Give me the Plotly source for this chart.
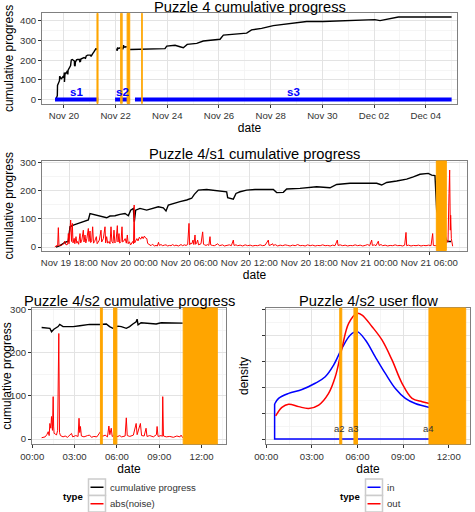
import pandas as pd
import plotly.graph_objects as go

W, H = 475, 512
FONT = "Liberation Sans, Arial, Helvetica, sans-serif"
ORANGE = "#FFA500"

# ---------------- data ----------------
# orange events (shared by all panels)
event_name = ["a1", "a2", "a3", "a4", "a5"]
event_start = ["2012-11-21 06:42", "2012-11-22 04:50", "2012-11-22 05:46",
               "2012-11-22 10:42", "2012-11-23 00:15"]
event_end = ["2012-11-21 07:42", "2012-11-22 04:58", "2012-11-22 06:00",
             "2012-11-22 13:07", "2012-11-23 00:45"]

# sessions (blue bars in the top panel)
session_name = ["s1", "s2", "s3"]
session_start = ["2012-11-19 15:45", "2012-11-21 23:30", "2012-11-22 18:00"]
session_end = ["2012-11-21 07:55", "2012-11-22 13:25", "2012-12-05 00:00"]

# s1: minutes after 2012-11-19 16:00
s1_t0 = "2012-11-19 16:00"
s1_prog_min = [40, 64, 94, 114, 124, 144, 174, 204, 234, 244, 264, 294, 324, 344, 364,
               394, 424, 454, 474, 488, 504, 510, 518, 544, 584, 624, 654, 684, 700, 714,
               744, 784, 824, 854, 870, 894, 944, 984, 1024, 1064, 1070, 1104, 1120, 1144,
               1184, 1234, 1344, 1364, 1404, 1424, 1504, 1604, 1684, 1724, 1804, 1904,
               1964, 1994, 2024, 2084, 2144, 2184, 2224, 2274, 2294, 2314, 2324, 2386, 2410]
s1_prog_val = [0, 5, 17, 21, 72, 78, 84, 90, 96, 119, 116, 113, 108, 104, 110,
               111, 116, 119, 111, 131, 137, 90, 131, 137, 131, 137, 143, 139, 128, 149,
               155, 161, 167, 173, 187, 202, 204, 202, 199, 196, 175, 170, 190, 196,
               202, 204, 204, 193, 194, 206, 208, 214, 210, 222, 226, 226,
               226, 220, 229, 234, 241, 249, 258, 261, 255, 253, 130, 20, 20]
s1_noise = [(34, 0), (40, 5), (50, 4), (54, 69), (58, 5), (65, 8), (75, 6), (85, 12), (92, 21),
            (100, 8), (110, 10), (114, 48), (118, 12), (128, 96), (133, 20), (138, 84), (142, 15),
            (149, 31), (153, 12), (160, 37), (165, 14), (170, 20), (176, 10), (184, 48), (188, 15),
            (195, 25), (204, 60), (208, 18), (214, 43), (219, 15), (225, 30), (234, 66), (238, 20),
            (244, 57), (248, 16), (254, 22), (260, 72), (265, 14), (272, 20), (282, 37), (287, 12),
            (294, 18), (300, 25), (310, 60), (314, 18), (324, 30), (334, 72), (338, 15), (344, 37),
            (350, 14), (358, 20), (364, 12), (370, 72), (375, 20), (382, 14), (388, 60), (393, 15),
            (400, 20), (408, 76), (412, 18), (418, 48), (422, 14), (430, 20), (436, 72), (440, 18),
            (446, 21), (455, 30), (462, 14), (468, 43), (473, 12), (480, 19), (488, 8), (495, 14),
            (500, 20), (505, 12), (509, 149), (512, 15), (518, 25), (525, 30), (532, 22), (540, 35),
            (548, 28), (556, 37), (563, 30), (570, 39), (578, 32), (585, 30), (590, 13), (600, 9),
            (610, 5), (618, 10), (625, 8), (632, 4), (640, 6), (648, 4), (655, 17), (660, 6),
            (670, 9), (680, 5), (690, 7), (700, 8), (710, 4), (720, 6), (730, 5), (740, 9),
            (750, 5), (760, 7), (775, 4), (790, 9), (800, 5), (810, 8), (820, 6), (830, 9),
            (838, 84), (842, 8), (848, 14), (855, 12), (862, 25), (867, 9), (874, 43), (878, 10),
            (884, 15), (890, 25), (895, 8), (900, 9), (910, 12), (920, 54), (925, 10), (932, 8),
            (940, 6), (950, 9), (957, 6), (964, 37), (968, 8), (978, 6), (990, 5), (1000, 8),
            (1010, 12), (1020, 5), (1030, 6), (1040, 8), (1050, 4), (1065, 7), (1080, 8), (1092, 5),
            (1104, 25), (1108, 6), (1120, 8), (1130, 5), (1145, 7), (1160, 4), (1175, 8), (1190, 5),
            (1205, 7), (1220, 4), (1235, 6), (1250, 5), (1265, 8), (1280, 5), (1295, 7), (1314, 25),
            (1318, 6), (1330, 8), (1340, 12), (1345, 5), (1355, 9), (1370, 4), (1385, 7), (1400, 5),
            (1415, 8), (1430, 6), (1445, 4), (1460, 7), (1475, 5), (1490, 9), (1505, 5), (1520, 6),
            (1535, 4), (1550, 8), (1565, 5), (1580, 7), (1595, 4), (1610, 6), (1625, 5), (1640, 8),
            (1655, 5), (1670, 6), (1685, 4), (1700, 7), (1714, 5), (1728, 25), (1732, 6), (1745, 8),
            (1760, 5), (1775, 7), (1790, 4), (1805, 6), (1820, 5), (1835, 8), (1850, 5), (1865, 7),
            (1880, 4), (1895, 6), (1910, 9), (1922, 5), (1934, 25), (1938, 6), (1950, 8), (1960, 5),
            (1974, 21), (1978, 6), (1990, 9), (2000, 5), (2015, 7), (2030, 4), (2045, 6), (2060, 5),
            (2075, 8), (2090, 5), (2105, 6), (2120, 4), (2132, 7), (2140, 52), (2144, 5), (2155, 7),
            (2170, 4), (2185, 6), (2200, 5), (2215, 7), (2230, 4), (2245, 6), (2260, 5), (2275, 7),
            (2290, 5), (2300, 48), (2304, 6), (2315, 5), (2330, 7), (2350, 5), (2370, 6), (2386, 20),
            (2392, 18), (2398, 190), (2402, 273), (2406, 60), (2408, 113), (2412, 30), (2414, 19),
            (2418, 5), (2420, 3)]

# s2: minutes after 2012-11-22 00:00
s2_t0 = "2012-11-22 00:00"
s2_prog_min = [40, 75, 82, 92, 110, 117, 131, 174, 202, 244, 287, 315, 329, 343, 364,
               379, 400, 414, 428, 442, 446, 450, 463, 499, 527, 548, 583, 640]
s2_prog_val = [258, 256, 248, 254, 260, 265, 260, 260, 262, 265, 265, 266, 260, 256, 261,
               260, 256, 260, 266, 271, 277, 264, 269, 268, 266, 269, 268, 268]
s2_noise = [(40, 3), (55, 5), (62, 10), (68, 17), (72, 8), (75, 36), (79, 25), (82, 52), (86, 20),
            (89, 98), (91, 30), (93, 13), (98, 12), (103, 9), (108, 20), (113, 244), (116, 15),
            (120, 8), (131, 5), (140, 7), (150, 4), (160, 9), (167, 13), (172, 5), (185, 8),
            (195, 6), (199, 48), (202, 15), (205, 29), (209, 7), (220, 5), (235, 8), (244, 9),
            (252, 4), (262, 6), (275, 5), (290, 17), (298, 6), (310, 9), (320, 5), (326, 30),
            (330, 10), (336, 25), (340, 6), (350, 9), (360, 5), (372, 8), (380, 5), (395, 7),
            (400, 49), (404, 8), (415, 6), (430, 9), (442, 36), (446, 10), (460, 36), (465, 8),
            (476, 7), (484, 25), (488, 6), (500, 8), (515, 5), (528, 10), (531, 29), (535, 6),
            (548, 8), (553, 6), (555, 98), (558, 7), (570, 5), (585, 6), (600, 4), (615, 7),
            (628, 5), (633, 9), (640, 3)]

# s3 cumulative progress (top panel only)
s3_prog_time = ["2012-11-22 13:26", "2012-11-23 07:55", "2012-11-23 21:50", "2012-11-23 23:31",
                "2012-11-24 07:12", "2012-11-24 11:46", "2012-11-24 14:53", "2012-11-24 18:29",
                "2012-11-25 03:22", "2012-11-25 09:22", "2012-11-25 17:17", "2012-11-26 00:58",
                "2012-11-26 04:05", "2012-11-26 13:12", "2012-11-27 01:41", "2012-11-27 06:14",
                "2012-11-27 15:36", "2012-11-28 02:24", "2012-11-28 14:53", "2012-11-29 09:22",
                "2012-11-30 00:43", "2012-12-01 01:41", "2012-12-01 10:48", "2012-12-02 00:43",
                "2012-12-02 05:31", "2012-12-02 11:46", "2012-12-02 22:34", "2012-12-03 15:36",
                "2012-12-05 00:00"]
s3_prog_val = [255, 259, 259, 272, 276, 269, 264, 281, 286, 298, 303, 307, 328, 333, 338, 355,
               362, 376, 384, 397, 397, 402, 407, 407, 402, 410, 420, 420, 420]

# s2 user flow densities (hours after 2012-11-22 00:00)
flow_in_hour = [0.55, 0.81, 1.47, 2.35, 3.22, 3.88, 4.43, 4.98, 5.53, 5.97, 6.52, 7.17,
                7.83, 8.49, 9.15, 9.80, 10.73]
flow_in_density = [1.35, 1.57, 1.76, 1.91, 2.15, 2.40, 2.85, 3.50, 4.01, 4.14, 3.82, 3.17,
                   2.53, 1.95, 1.57, 1.37, 1.22]
flow_out_hour = [0.62, 1.03, 1.47, 2.13, 2.79, 3.45, 4.10, 4.54, 4.98, 5.42, 5.97, 6.30,
                 6.96, 7.61, 8.27, 8.93, 9.59, 10.25, 10.73]
flow_out_density = [0.89, 1.22, 1.34, 1.25, 1.18, 1.31, 1.76, 2.40, 3.50, 4.46, 4.84, 4.78,
                    4.33, 3.82, 3.05, 2.15, 1.57, 1.44, 1.37]


def at(t0, minutes):
    return [pd.Timestamp(t0) + pd.Timedelta(minutes=float(m)) for m in minutes]


def at_hours(t0, hours):
    return [pd.Timestamp(t0) + pd.Timedelta(hours=float(h)) for h in hours]


def px(x):
    return x / W


def py(y):
    return 1 - y / H


s1_t = at(s1_t0, s1_prog_min)
s1_nt = at(s1_t0, [m for m, v in s1_noise])
s1_nv = [v for m, v in s1_noise]
s2_t = at(s2_t0, s2_prog_min)
s2_nt = at(s2_t0, [m for m, v in s2_noise])
s2_nv = [v for m, v in s2_noise]
in_t = at_hours(s2_t0, flow_in_hour)
out_t = at_hours(s2_t0, flow_out_hour)

fig = go.Figure()

# ---------- top panel ----------
a1_start = pd.Timestamp(event_start[0])
top_s1_t = [t for t in s1_t if t < a1_start]
top_s1_v = [v for t, v in zip(s1_t, s1_prog_val) if t < a1_start]
for xs, ys in [(top_s1_t, top_s1_v), (s2_t, s2_prog_val), (pd.to_datetime(s3_prog_time), s3_prog_val)]:
    fig.add_trace(go.Scatter(x=xs, y=ys, mode="lines", line=dict(color="black", width=1.4),
                             xaxis="x", yaxis="y", showlegend=False, hoverinfo="skip"))
bx, byy = [], []
for s, e in zip(session_start, session_end):
    bx += [pd.Timestamp(s), pd.Timestamp(e), None]
    byy += [0, 0, None]
fig.add_trace(go.Scatter(x=bx, y=byy, mode="lines", line=dict(color="#0000FF", width=4),
                         xaxis="x", yaxis="y", showlegend=False, hoverinfo="skip"))

# ---------- middle panel ----------
fig.add_trace(go.Scatter(x=s1_t, y=s1_prog_val, mode="lines", line=dict(color="black", width=1.4),
                         xaxis="x2", yaxis="y2", name="cumulative progress", showlegend=False))
fig.add_trace(go.Scatter(x=s1_nt, y=s1_nv, mode="lines", line=dict(color="#FF0000", width=1),
                         xaxis="x2", yaxis="y2", name="abs(noise)", showlegend=False))

# ---------- bottom left ----------
fig.add_trace(go.Scatter(x=s2_t, y=s2_prog_val, mode="lines", line=dict(color="black", width=1.4),
                         xaxis="x3", yaxis="y3", showlegend=False))
fig.add_trace(go.Scatter(x=s2_nt, y=s2_nv, mode="lines", line=dict(color="#FF0000", width=1),
                         xaxis="x3", yaxis="y3", showlegend=False))

# ---------- bottom right ----------
fig.add_trace(go.Scatter(x=in_t, y=flow_in_density, mode="lines", line=dict(color="#0000FF", width=1.5, shape="spline"),
                         xaxis="x4", yaxis="y4", name="in", showlegend=False))
fig.add_trace(go.Scatter(x=[in_t[-1], in_t[0], in_t[0]], y=[0, 0, flow_in_density[0]], mode="lines",
                         line=dict(color="#0000FF", width=1.5), xaxis="x4", yaxis="y4", showlegend=False))
fig.add_trace(go.Scatter(x=out_t, y=flow_out_density, mode="lines", line=dict(color="#FF0000", width=1.5, shape="spline"),
                         xaxis="x4", yaxis="y4", name="out", showlegend=False))

# ---------- axes ----------
panels = {
    "1": dict(xr=["2012-11-19 03:40", "2012-12-05 05:00"], yr=[-20, 439], xd=[42, 457], yd=[13.3, 103.5]),
    "2": dict(xr=["2012-11-19 15:16", "2012-11-21 09:46"], yr=[-12, 305], xd=[42, 467], yd=[161, 250.5]),
    "3": dict(xr=["2012-11-21 23:59", "2012-11-22 13:44"], yr=[-11.5, 303], xd=[32, 226], yd=[308, 444]),
    "4": dict(xr=["2012-11-21 23:59", "2012-11-22 13:24"], yr=[-0.19, 5.05], xd=[266, 470], yd=[308, 444]),
}
xticks = {
    "1": dict(tick0="2012-11-20", dtick=2 * 86400000, tickformat="%b %d", minor=86400000),
    "2": dict(tick0="2012-11-19 18:00", dtick=6 * 3600000, tickformat="%b %d %H:%M", minor=3 * 3600000),
    "3": dict(tick0="2012-11-22 00:00", dtick=3 * 3600000, tickformat="%H:%M", minor=1.5 * 3600000),
    "4": dict(tick0="2012-11-22 00:00", dtick=3 * 3600000, tickformat="%H:%M", minor=1.5 * 3600000),
}
common = dict(showline=True, mirror=True, linecolor="#808080", linewidth=1, ticks="outside",
              ticklen=3, tickwidth=1, tickcolor="#333333", showgrid=True, gridcolor="#E3E3E3",
              gridwidth=1, zeroline=False, automargin=False,
              tickfont=dict(size=9.6, color="#333333", family=FONT))
layout = {}
for k, p in panels.items():
    xn = "xaxis" if k == "1" else f"xaxis{k}"
    yn = "yaxis" if k == "1" else f"yaxis{k}"
    xa = "x" if k == "1" else f"x{k}"
    ya = "y" if k == "1" else f"y{k}"
    xt = xticks[k]
    layout[xn] = dict(common, type="date", range=p["xr"], domain=[px(p["xd"][0]), px(p["xd"][1])],
                      anchor=ya, tickmode="linear", tick0=xt["tick0"], dtick=xt["dtick"],
                      tickformat=xt["tickformat"], tickangle=0,
                      minor=dict(tick0=xt["tick0"], dtick=xt["minor"], showgrid=True, gridcolor="#F2F2F2", gridwidth=0.8),
                      title=dict(text="date", font=dict(size=12, color="black", family=FONT), standoff=1))
    ydict = dict(common, range=p["yr"], domain=[py(p["yd"][1]), py(p["yd"][0])], anchor=xa,
                 title=dict(text="cumulative progress", font=dict(size=12, color="black", family=FONT), standoff=3))
    if k == "4":
        ydict.update(tickmode="array", tickvals=[0, 1, 2, 3, 4, 5], ticktext=[""] * 6,
                     minor=dict(tickvals=[0.5, 1.5, 2.5, 3.5, 4.5], showgrid=True, gridcolor="#F2F2F2", gridwidth=0.8))
        ydict["title"] = dict(text="density", font=dict(size=12, color="black", family=FONT), standoff=8)
    else:
        ydict.update(tickmode="linear", tick0=0, dtick=100,
                     minor=dict(tick0=50, dtick=100, showgrid=True, gridcolor="#F2F2F2", gridwidth=0.8))
    layout[yn] = ydict

# ---------- events (orange) ----------
shapes = []
for k, p in panels.items():
    xa = "x" if k == "1" else f"x{k}"
    ya = "y" if k == "1" else f"y{k}"
    lo, hi = pd.Timestamp(p["xr"][0]), pd.Timestamp(p["xr"][1])
    for s, e in zip(event_start, event_end):
        s, e = pd.Timestamp(s), pd.Timestamp(e)
        if e < lo or s > hi:
            continue
        shapes.append(dict(type="rect", xref=xa, yref=f"{ya} domain", x0=s, x1=min(e, hi), y0=0, y1=1,
                           fillcolor=ORANGE, line=dict(color=ORANGE, width=1), layer="above"))

annotations = []
# session labels
for n, s, e in zip(session_name, session_start, session_end):
    mid = pd.Timestamp(s) + (pd.Timestamp(e) - pd.Timestamp(s)) / 2
    annotations.append(dict(x=mid, y=0, xref="x", yref="y", text=f"<b>{n}</b>", showarrow=False,
                            yanchor="bottom", yshift=0, font=dict(size=11.5, color="#0000FF", family=FONT)))
# event labels in the user-flow panel
lo, hi = pd.Timestamp(panels["4"]["xr"][0]), pd.Timestamp(panels["4"]["xr"][1])
for n, s in zip(event_name, event_start):
    s = pd.Timestamp(s)
    if lo <= s <= hi:
        annotations.append(dict(x=s, y=0.39, xref="x4", yref="y4", text=n, showarrow=False,
                                font=dict(size=9.5, color="#333333", family=FONT)))
# titles
for txt, xc, yc in [("Puzzle 4 cumulative progress", (42 + 457) / 2, 7),
                    ("Puzzle 4/s1 cumulative progress", (42 + 467) / 2, 154),
                    ("Puzzle 4/s2 cumulative progress", (32 + 226) / 2, 301),
                    ("Puzzle 4/s2 user flow", (266 + 470) / 2, 301)]:
    annotations.append(dict(x=px(xc), y=py(yc), xref="paper", yref="paper", text=txt, showarrow=False,
                            xanchor="center", yanchor="middle", font=dict(size=14.7, color="black", family=FONT)))

# ---------- legends (ggplot-style keys) ----------
legends = [
    dict(title_right=84.5, box_x=88.5, items=[("cumulative progress", "black"), ("abs(noise)", "#FF0000")]),
    dict(title_right=362, box_x=365.5, items=[("in", "#0000FF"), ("out", "#FF0000")]),
]
for lg in legends:
    annotations.append(dict(x=px(lg["title_right"]), y=py(496), xref="paper", yref="paper", text="<b>type</b>",
                            showarrow=False, xanchor="right", yanchor="middle",
                            font=dict(size=9.6, color="black", family=FONT)))
    for i, (label, col) in enumerate(lg["items"]):
        top = 479 + 16.5 * i
        shapes.append(dict(type="rect", xref="paper", yref="paper", x0=px(lg["box_x"]), x1=px(lg["box_x"] + 17),
                           y0=py(top + 16.5), y1=py(top), line=dict(color="#CCCCCC", width=1.5),
                           fillcolor="white", layer="above"))
        shapes.append(dict(type="line", xref="paper", yref="paper", x0=px(lg["box_x"] + 2), x1=px(lg["box_x"] + 15),
                           y0=py(top + 8.25), y1=py(top + 8.25), line=dict(color=col, width=1.5), layer="above"))
        annotations.append(dict(x=px(lg["box_x"] + 19), y=py(top + 8.25), xref="paper", yref="paper", text=label,
                                showarrow=False, xanchor="left", yanchor="middle",
                                font=dict(size=9.6, color="#333333", family=FONT)))

fig.update_layout(width=W, height=H, autosize=False, margin=dict(l=0, r=0, t=0, b=0, pad=0),
                  paper_bgcolor="white", plot_bgcolor="white", font=dict(family=FONT, color="black"),
                  showlegend=False, hovermode=False, shapes=shapes, annotations=annotations, **layout)
fig.write_html("out.html", config={"displayModeBar": False, "staticPlot": True},
               post_script="document.body.style.margin='0';document.body.style.padding='0';"
                           "document.body.style.overflow='hidden';")
